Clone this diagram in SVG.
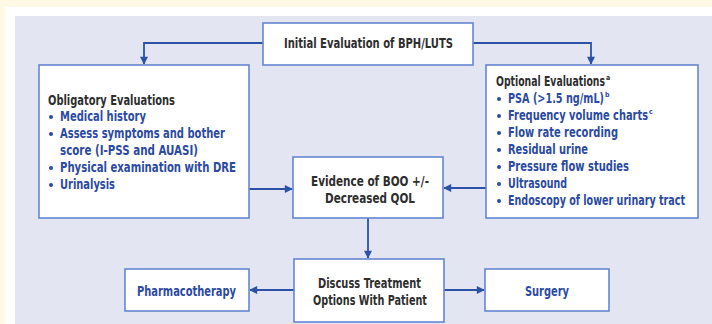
<svg xmlns="http://www.w3.org/2000/svg" width="712" height="324" viewBox="0 0 712 324">
<defs>
<style>
.box{fill:#ffffff;stroke:#6486d2;stroke-width:1.6}
.t{font-family:"DejaVu Sans Condensed","DejaVu Sans",sans-serif;font-weight:bold;font-size:13.8px}
.dk{fill:#2e2e2e}
.bl{fill:#2b4aa2}
.sup{font-size:7px}
.cn{fill:none;stroke:#2c52a8;stroke-width:1.8}
.dot{fill:#2b4aa2}
</style>
<marker id="ah" viewBox="0 0 10 10" refX="9" refY="5" markerWidth="9" markerHeight="8" markerUnits="userSpaceOnUse" orient="auto">
<path d="M0,0 L10,5 L0,10 z" fill="#2c52a8"/>
</marker>
</defs>
<rect x="0" y="0" width="712" height="324" fill="#fdf9e5"/>
<rect x="5" y="7" width="707" height="317" fill="#ffffff"/>
<rect x="15" y="16" width="697" height="308" fill="#e3e5f2"/>

<g id="connectors">
<path class="cn" d="M263,43 H144 V64" marker-end="url(#ah)"/>
<path class="cn" d="M473,43 H591 V64" marker-end="url(#ah)"/>
<path class="cn" d="M249,189 H292" marker-end="url(#ah)"/>
<path class="cn" d="M486,188 H444" marker-end="url(#ah)"/>
<path class="cn" d="M368,218 V258" marker-end="url(#ah)"/>
<path class="cn" d="M294,290 H250" marker-end="url(#ah)"/>
<path class="cn" d="M444,290 H484" marker-end="url(#ah)"/>
</g>

<g id="initial">
<rect class="box" x="263" y="23" width="210" height="42"/>
<text class="t dk" x="284" y="48" textLength="169" lengthAdjust="spacingAndGlyphs">Initial Evaluation of BPH/LUTS</text>
</g>

<g id="obligatory">
<rect class="box" x="39" y="65" width="210" height="153"/>
<text class="t dk" x="48" y="105" textLength="127" lengthAdjust="spacingAndGlyphs">Obligatory Evaluations</text>
<circle class="dot" cx="51" cy="117" r="2"/>
<text class="t bl" x="60" y="121" textLength="86" lengthAdjust="spacingAndGlyphs">Medical history</text>
<circle class="dot" cx="51" cy="134" r="2"/>
<text class="t bl" x="60" y="138" textLength="165" lengthAdjust="spacingAndGlyphs">Assess symptoms and bother</text>
<text class="t bl" x="60" y="155" textLength="138" lengthAdjust="spacingAndGlyphs">score (I-PSS and AUASI)</text>
<circle class="dot" cx="51" cy="168" r="2"/>
<text class="t bl" x="60" y="172" textLength="176" lengthAdjust="spacingAndGlyphs">Physical examination with DRE</text>
<circle class="dot" cx="51" cy="185" r="2"/>
<text class="t bl" x="60" y="189" textLength="55" lengthAdjust="spacingAndGlyphs">Urinalysis</text>
</g>

<g id="optional">
<rect class="box" x="486" y="65" width="212" height="153"/>
<text class="t dk" x="496" y="86"><tspan textLength="109" lengthAdjust="spacingAndGlyphs">Optional Evaluations</tspan><tspan class="sup" dx="1" dy="-6">a</tspan></text>
<circle class="dot" cx="499" cy="99" r="2"/>
<text class="t bl" x="508" y="103"><tspan textLength="96" lengthAdjust="spacingAndGlyphs">PSA (&gt;1.5 ng/mL)</tspan><tspan class="sup" dx="1" dy="-6">b</tspan></text>
<circle class="dot" cx="499" cy="116" r="2"/>
<text class="t bl" x="508" y="120"><tspan textLength="140" lengthAdjust="spacingAndGlyphs">Frequency volume charts</tspan><tspan class="sup" dx="1" dy="-6">c</tspan></text>
<circle class="dot" cx="499" cy="133" r="2"/>
<text class="t bl" x="508" y="137" textLength="110" lengthAdjust="spacingAndGlyphs">Flow rate recording</text>
<circle class="dot" cx="499" cy="150" r="2"/>
<text class="t bl" x="508" y="154" textLength="80" lengthAdjust="spacingAndGlyphs">Residual urine</text>
<circle class="dot" cx="499" cy="167" r="2"/>
<text class="t bl" x="508" y="171" textLength="121" lengthAdjust="spacingAndGlyphs">Pressure flow studies</text>
<circle class="dot" cx="499" cy="184" r="2"/>
<text class="t bl" x="508" y="188" textLength="59" lengthAdjust="spacingAndGlyphs">Ultrasound</text>
<circle class="dot" cx="499" cy="201" r="2"/>
<text class="t bl" x="508" y="205" textLength="177" lengthAdjust="spacingAndGlyphs">Endoscopy of lower urinary tract</text>
</g>

<g id="evidence">
<rect class="box" x="293" y="157" width="150" height="61"/>
<text class="t dk" x="311" y="186" textLength="118" lengthAdjust="spacingAndGlyphs">Evidence of BOO +/-</text>
<text class="t dk" x="325" y="203" textLength="90" lengthAdjust="spacingAndGlyphs">Decreased QOL</text>
</g>

<g id="discuss">
<rect class="box" x="294" y="259" width="150" height="63"/>
<text class="t dk" x="318" y="288" textLength="103" lengthAdjust="spacingAndGlyphs">Discuss Treatment</text>
<text class="t dk" x="313" y="305" textLength="114" lengthAdjust="spacingAndGlyphs">Options With Patient</text>
</g>

<g id="pharmacotherapy">
<rect class="box" x="125" y="269" width="124" height="42"/>
<text class="t bl" x="137" y="296" textLength="99" lengthAdjust="spacingAndGlyphs">Pharmacotherapy</text>
</g>

<g id="surgery">
<rect class="box" x="485" y="269" width="124" height="42"/>
<text class="t bl" x="525" y="296" textLength="44" lengthAdjust="spacingAndGlyphs">Surgery</text>
</g>
</svg>
